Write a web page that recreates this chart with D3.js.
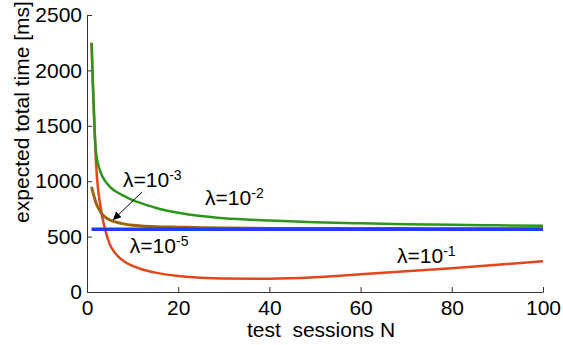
<!DOCTYPE html>
<html>
<head>
<meta charset="utf-8">
<script src="https://cdn.jsdelivr.net/npm/d3@7"></script>
<style>
  html, body { margin: 0; padding: 0; background: #fff; }
  svg { display: block; font-family: "Liberation Sans", Arial, sans-serif; }
</style>
</head>
<body>
<svg width="563" height="345"></svg>
<script>
// test sessions N
const sessions = [1, 2, 3, 4, 5, 6, 8, 10, 12, 15, 20, 25, 30, 40, 50, 60, 70, 80, 90, 100]

// expected total time [ms], one list per lambda
const lambda1 = [2250, 1150, 760, 560, 430, 360, 280, 235, 205, 175, 145, 128, 121, 120, 133, 160, 188, 215, 245, 278]
const lambda2 = [2250, 1250, 1080, 1000, 950, 915, 870, 830, 800, 760, 715, 685, 665, 645, 630, 620, 612, 606, 602, 598]
const lambda3 = [950, 800, 720, 675, 650, 635, 615, 603, 596, 590, 585, 580, 577, 574, 573, 572, 572, 571, 571, 570]
const lambda5 = [567, 567, 567, 567, 567, 567, 567, 567, 567, 567, 567, 567, 567, 567, 567, 567, 567, 567, 567, 567]

const xTicks = [0, 20, 40, 60, 80, 100]
const yTicks = [0, 500, 1000, 1500, 2000, 2500]

// label anchors in data units: [N, ms]
const labels = [
  { exp: '-3', at: [7.9, 948] },
  { exp: '-2', at: [25.9, 785] },
  { exp: '-5', at: [9.4, 352] },
  { exp: '-1', at: [68, 262] }
]
const arrowFrom = [12.1, 903]
const arrowTo = [5.7, 650]

const margin = {top: 15, right: 20, bottom: 53, left: 87}
const width = 563
const height = 345
const fontSize = '21px'

const svg = d3.select('svg')

const x = d3.scaleLinear()
  .domain([0, 100])
  .range([margin.left, width - margin.right])

const y = d3.scaleLinear()
  .domain([0, 2500])
  .range([height - margin.bottom, margin.top])

const xAxis = g =>
  g.attr('transform', `translate(0, ${height - margin.bottom})`)
   .call(d3.axisBottom(x).tickValues(xTicks).tickFormat(d3.format('d'))
     .tickSizeInner(-5).tickSizeOuter(0).tickPadding(8))

const yAxis = g =>
  g.attr('transform', `translate(${margin.left}, 0)`)
   .call(d3.axisLeft(y).tickValues(yTicks).tickFormat(d3.format('d'))
     .tickSizeInner(-5).tickSizeOuter(0).tickPadding(5))

function styleAxis(g) {
  g.selectAll('path, line').attr('stroke', '#333')
  g.selectAll('text').attr('fill', '#000').style('font-size', fontSize)
    .style('font-family', '"Liberation Sans", Arial, sans-serif')
}

svg.append('g').attr('class', 'x-axis').call(xAxis).call(styleAxis)
svg.append('g').attr('class', 'y-axis').call(yAxis).call(styleAxis)

const series = [
  { values: lambda1, color: '#e4461a', width: 2.5 },
  { values: lambda2, color: '#2b961a', width: 2.5 },
  { values: lambda3, color: '#a0620f', width: 3 },
  { values: lambda5, color: '#1f3cff', width: 3.5 }
]

const line = d3.line()
  .x(d => x(d[0]))
  .y(d => y(d[1]))
  .curve(d3.curveMonotoneX)

svg.append('g')
  .attr('class', 'lines')
  .selectAll('path')
  .data(series)
  .join('path')
    .attr('fill', 'none')
    .attr('stroke', d => d.color)
    .attr('stroke-width', d => d.width)
    .attr('d', d => line(sessions.map((n, i) => [n, d.values[i]])))

// arrow pointing at the lambda=10^-3 curve
svg.append('defs').append('marker')
  .attr('id', 'head')
  .attr('viewBox', '0 0 10 10')
  .attr('refX', 10).attr('refY', 5)
  .attr('markerWidth', 10).attr('markerHeight', 8)
  .attr('markerUnits', 'userSpaceOnUse')
  .attr('orient', 'auto')
  .append('path')
    .attr('d', 'M0,0L10,5L0,10z')
    .attr('fill', '#000')

svg.append('line')
  .attr('x1', x(arrowFrom[0])).attr('y1', y(arrowFrom[1]))
  .attr('x2', x(arrowTo[0])).attr('y2', y(arrowTo[1]))
  .attr('stroke', '#000')
  .attr('stroke-width', 1)
  .attr('marker-end', 'url(#head)')

const lab = svg.append('g')
  .attr('class', 'labels')
  .selectAll('text')
  .data(labels)
  .join('text')
    .attr('x', d => x(d.at[0]))
    .attr('y', d => y(d.at[1]))
    .style('font-size', fontSize)

lab.append('tspan').text('λ=10')
lab.append('tspan')
  .attr('dy', -7)
  .style('font-size', '14px')
  .text(d => d.exp)

svg.append('text')
  .attr('x', 321)
  .attr('y', 337)
  .attr('text-anchor', 'middle')
  .style('font-size', fontSize)
  .style('white-space', 'pre')
  .attr('xml:space', 'preserve')
  .text('test  sessions N')

svg.append('text')
  .attr('transform', 'translate(29, 112) rotate(-90)')
  .attr('text-anchor', 'middle')
  .style('font-size', fontSize)
  .text('expected total time [ms]')
</script>
</body>
</html>
